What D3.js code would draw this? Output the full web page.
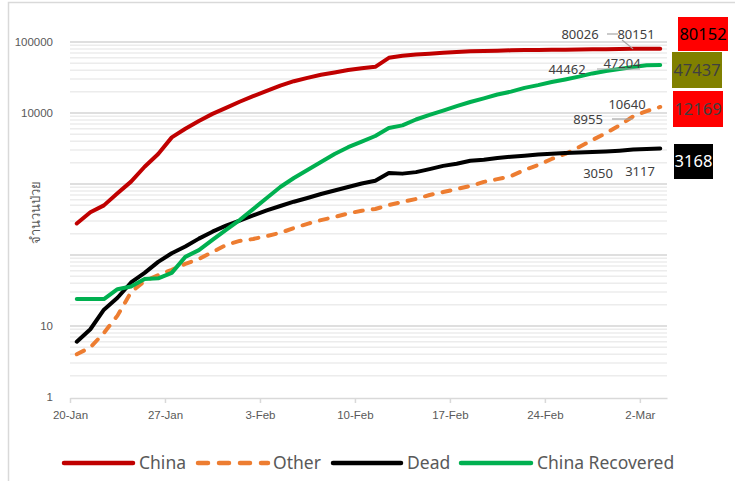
<!DOCTYPE html>
<html>
<head>
<meta charset="utf-8">
<script src="https://cdn.jsdelivr.net/npm/d3@7"></script>
<style>
  body { margin: 0; background: #fff; }
  svg { display: block; font-family: "Noto Sans", "Open Sans", sans-serif; }
</style>
</head>
<body>
<script>
// daily series, 20-Jan .. 3-Mar
const china = [278, 400, 500, 740, 1080, 1750, 2650, 4537, 5997, 7736, 9720, 11821, 14411, 17238, 20471,
  24363, 28060, 31211, 34598, 37251, 40235, 42708, 44730, 59804, 63851, 66492, 68500, 70548, 72436, 74185,
  74576, 75465, 76288, 76936, 77150, 77658, 78064, 78497, 78824, 79251, 79824, 80026, 80151, 80152];
const other = [4, 5, 8, 14, 30, 43, 52, 62, 75, 88, 110, 138, 158, 168, 185, 205, 240, 275, 310, 343,
  385, 420, 445, 505, 560, 615, 700, 770, 850, 935, 1070, 1170, 1290, 1580, 1850, 2250, 2650, 3300,
  4170, 5200, 6700, 8955, 10640, 12169];
const dead = [6, 9, 17, 25, 41, 56, 80, 106, 132, 170, 213, 259, 304, 361, 425, 490, 563, 636, 722, 811,
  908, 1016, 1113, 1430, 1400, 1470, 1620, 1800, 1930, 2120, 2200, 2330, 2420, 2500, 2600, 2660, 2730,
  2780, 2830, 2880, 2950, 3050, 3117, 3168];
const recovered = [24, 24, 24, 33, 36, 46, 47, 56, 94, 117, 163, 226, 311, 443, 635, 907, 1216, 1575,
  2040, 2650, 3300, 3940, 4740, 6150, 6700, 8100, 9400, 10800, 12500, 14300, 16100, 18200, 20000, 22600,
  24700, 27300, 29700, 32500, 36100, 39000, 41600, 44462, 47204, 47437];

const startDate = new Date(2020, 0, 20);
const endDate = new Date(2020, 2, 4);
const dates = d3.timeDay.range(startDate, endDate);
const yTickLabels = [1, 10, 10000, 100000];

const seriesNames = ["China", "Other", "Dead", "China Recovered"];
const seriesData = [china, other, dead, recovered];
const colors = ["#c00000", "#ed7d31", "#000000", "#00b050"];

const width = 735, height = 481;
const svg = d3.select("body").append("svg")
    .attr("width", width)
    .attr("height", height);

// outer chart border (partly cropped)
svg.append("path")
    .attr("d", "M8.5,481 V2.5 H735")
    .attr("fill", "none")
    .attr("stroke", "#d9d9d9")
    .attr("stroke-width", 1.5);

const x = d3.scaleTime().domain([startDate, endDate]).range([70, 667]);
const y = d3.scaleLog().domain([1, 100000]).range([397, 42]);
const xPos = (i) => x(d3.timeHour.offset(dates[i], 12));

// gridlines: minor then major
const minor = [], major = [];
for (let d = 1; d < 100000; d *= 10) {
  for (let k = 1; k < 10; k++) (k === 1 ? major : minor).push(k * d);
}
major.push(100000);

svg.append("g").selectAll("line").data(minor).join("line")
    .attr("x1", 70).attr("x2", 667)
    .attr("y1", d => y(d)).attr("y2", d => y(d))
    .attr("stroke", "#ececec").attr("stroke-width", 1.5);
svg.append("g").selectAll("line").data(major.filter(d => d > 1)).join("line")
    .attr("x1", 70).attr("x2", 667)
    .attr("y1", d => y(d)).attr("y2", d => y(d))
    .attr("stroke", "#d4d4d4").attr("stroke-width", 1.5);

// y axis labels
svg.append("g")
    .attr("transform", "translate(70,0)")
    .call(d3.axisLeft(y).tickValues(yTickLabels).tickFormat(d3.format("d")).tickSize(0).tickPadding(17))
    .call(g => g.select(".domain").remove())
    .call(g => g.selectAll("text").attr("fill", "#595959").style("font-size", "11.5px"));

svg.append("text")
    .attr("transform", "translate(40,212) rotate(-90)")
    .attr("text-anchor", "middle")
    .attr("fill", "#595959")
    .style("font-size", "13px")
    .text("จำนวนป่วย");

// x axis
const xTicks = dates.filter((d, i) => i % 7 === 0);
svg.append("g")
    .attr("transform", "translate(0,398)")
    .call(d3.axisBottom(x).tickValues(xTicks).tickFormat(d3.timeFormat("%-d-%b")).tickSize(5).tickSizeOuter(0).tickPadding(8))
    .call(g => g.select(".domain").attr("stroke", "#d9d9d9").attr("stroke-width", 1.5))
    .call(g => g.selectAll(".tick line").attr("stroke", "#d9d9d9").attr("stroke-width", 1.5))
    .call(g => g.selectAll("text").attr("fill", "#595959").style("font-size", "11.5px"));

// series lines
const line = d3.line()
    .x((d, i) => xPos(i))
    .y(d => y(d));

svg.append("g").selectAll("path")
    .data(seriesData)
    .join("path")
    .attr("fill", "none")
    .attr("stroke", (d, i) => colors[i])
    .attr("stroke-width", 4)
    .attr("stroke-linecap", "round")
    .attr("stroke-linejoin", "round")
    .attr("stroke-dasharray", (d, i) => i === 1 ? "8,10" : null)
    .attr("d", line);

// data labels with leader lines
const labelColor = "#404040";
const n = china.length;
const leaders = [
  [607, 34, 618, 34], [622, 40, xPos(n - 3), y(china[n - 3])],
  [597, 69, 640, 69], [612, 119, xPos(n - 2) - 14, 119]
];
svg.append("g").selectAll("line").data(leaders).join("line")
    .attr("x1", d => d[0]).attr("y1", d => d[1])
    .attr("x2", d => d[2]).attr("y2", d => d[3])
    .attr("stroke", "#a6a6a6").attr("stroke-width", 1.2);

const pointLabels = [
  { v: china[n - 3], x: 580, y: 34 }, { v: china[n - 2], x: 636, y: 34 },
  { v: recovered[n - 3], x: 567, y: 69 }, { v: recovered[n - 2], x: 622, y: 63 },
  { v: other[n - 3], x: 588, y: 119 }, { v: other[n - 2], x: 627, y: 104 },
  { v: dead[n - 3], x: 598, y: 173 }, { v: dead[n - 2], x: 640, y: 171 }
];
svg.append("g").selectAll("text").data(pointLabels).join("text")
    .attr("x", d => d.x).attr("y", d => d.y)
    .attr("dy", "0.35em")
    .attr("text-anchor", "middle")
    .attr("fill", labelColor)
    .style("font-size", "13px")
    .text(d => d.v);

// end-value boxes
const endBoxes = [
  { v: china[n - 1], x: 678, y: 17, w: 50, h: 34, fill: "#ff0000", text: "#000000" },
  { v: recovered[n - 1], x: 672, y: 52, w: 50, h: 36, fill: "#808000", text: "#404040" },
  { v: other[n - 1], x: 673, y: 91, w: 50, h: 36, fill: "#ff0000", text: "#404040" },
  { v: dead[n - 1], x: 674, y: 144, w: 39, h: 35, fill: "#000000", text: "#ffffff" }
];
const box = svg.append("g").selectAll("g").data(endBoxes).join("g");
box.append("rect")
    .attr("x", d => d.x).attr("y", d => d.y)
    .attr("width", d => d.w).attr("height", d => d.h)
    .attr("fill", d => d.fill);
box.append("text")
    .attr("x", d => d.x + d.w / 2).attr("y", d => d.y + d.h / 2)
    .attr("dy", "0.36em")
    .attr("text-anchor", "middle")
    .attr("fill", d => d.text)
    .style("font-size", "16.5px")
    .text(d => d.v);

// legend
const legendItems = [
  { x1: 64, x2: 133, tx: 139 },
  { x1: 198, x2: 268, tx: 273 },
  { x1: 333, x2: 401, tx: 407 },
  { x1: 461, x2: 531, tx: 537 }
];
const legend = svg.append("g").selectAll("g").data(legendItems).join("g");
legend.append("line")
    .attr("x1", d => d.x1).attr("x2", d => d.x2)
    .attr("y1", 463).attr("y2", 463)
    .attr("stroke", (d, i) => colors[i])
    .attr("stroke-width", 4.5)
    .attr("stroke-linecap", "round")
    .attr("stroke-dasharray", (d, i) => i === 1 ? "10,11" : null);
legend.append("text")
    .attr("x", d => d.tx).attr("y", 463)
    .attr("dy", "0.35em")
    .attr("fill", "#595959")
    .style("font-size", "17.5px")
    .text((d, i) => seriesNames[i]);
</script>
</body>
</html>
